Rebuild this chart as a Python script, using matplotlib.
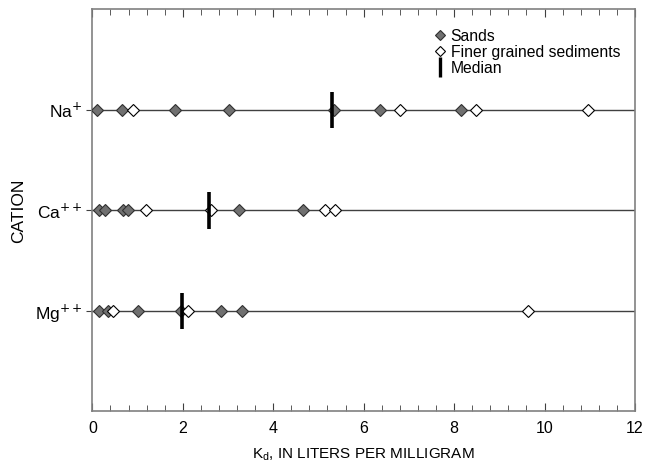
"""Distribution coefficients (Kd) for major cations, sands vs finer sediments."""

import matplotlib

matplotlib.use("Agg")
import matplotlib.pyplot as plt
from matplotlib.lines import Line2D
from matplotlib.ticker import MultipleLocator

plt.rcParams["font.family"] = ["Liberation Sans", "DejaVu Sans"]

# values
cations = ["Mg$^{++}$", "Ca$^{++}$", "Na$^{+}$"]
sands = [
    [0.15, 0.35, 1.02, 1.96, 2.84, 3.31],
    [0.15, 0.29, 0.68, 0.79, 3.24, 4.65],
    [0.10, 0.65, 1.83, 3.02, 5.35, 6.37, 8.16],
]
finer = [
    [0.46, 2.12, 9.63],
    [1.19, 2.62, 5.14, 5.36],
    [0.90, 6.81, 8.49, 10.95],
]
medians = [1.99, 2.58, 5.30]

fig = plt.figure(figsize=(6.47, 4.74), dpi=100)
ax = fig.add_axes([0.1427, 0.132, 0.8388, 0.848])

for row, (s, f, med) in enumerate(zip(sands, finer, medians), start=1):
    ax.axhline(row, color="#404040", lw=1.0, zorder=1)
    ax.plot(s, [row] * len(s), linestyle="none", marker="D", ms=6.5,
            mfc="#707070", mec="#303030", mew=0.8, zorder=3)
    ax.plot(f, [row] * len(f), linestyle="none", marker="D", ms=6.5,
            mfc="white", mec="black", mew=0.8, zorder=3)
    ax.plot([med, med], [row - 0.18, row + 0.18], color="black", lw=2.6,
            solid_capstyle="butt", zorder=4)

ax.set_xlim(0, 12)
ax.set_ylim(0, 4)
ax.xaxis.set_major_locator(MultipleLocator(2))
ax.xaxis.set_minor_locator(MultipleLocator(0.4))
ax.set_yticks([1, 2, 3])
ax.set_yticklabels(cations)

ax.tick_params(axis="x", which="both", direction="in", top=True, labelsize=11.5,
               color="#404040", pad=7)
ax.tick_params(axis="x", which="major", length=6)
ax.tick_params(axis="x", which="minor", length=4)
ax.tick_params(axis="y", direction="out", length=4, labelsize=12.5,
               color="#404040", pad=3)
for spine in ax.spines.values():
    spine.set_color("#808080")
    spine.set_linewidth(1.2)

ax.set_xlabel("K$_\\mathregular{d}$, IN LITERS PER MILLIGRAM", fontsize=11,
              labelpad=7)
ax.set_ylabel("CATION", fontsize=12.5, labelpad=6)

handles = [
    Line2D([], [], linestyle="none", marker="D", ms=5.5, mfc="#707070",
           mec="#303030", mew=0.8),
    Line2D([], [], linestyle="none", marker="D", ms=5.5, mfc="white",
           mec="black", mew=0.8),
    Line2D([], [], linestyle="none", marker="|", ms=14, mew=2.4,
           color="black"),
]
ax.legend(handles, ["Sands", "Finer grained sediments", "Median"],
          loc="upper right", bbox_to_anchor=(0.99, 0.975), frameon=False,
          fontsize=11.3, handlelength=0.7, handletextpad=0.35,
          labelspacing=0.05, borderaxespad=0.2)

fig.savefig("out.png", dpi=100)
